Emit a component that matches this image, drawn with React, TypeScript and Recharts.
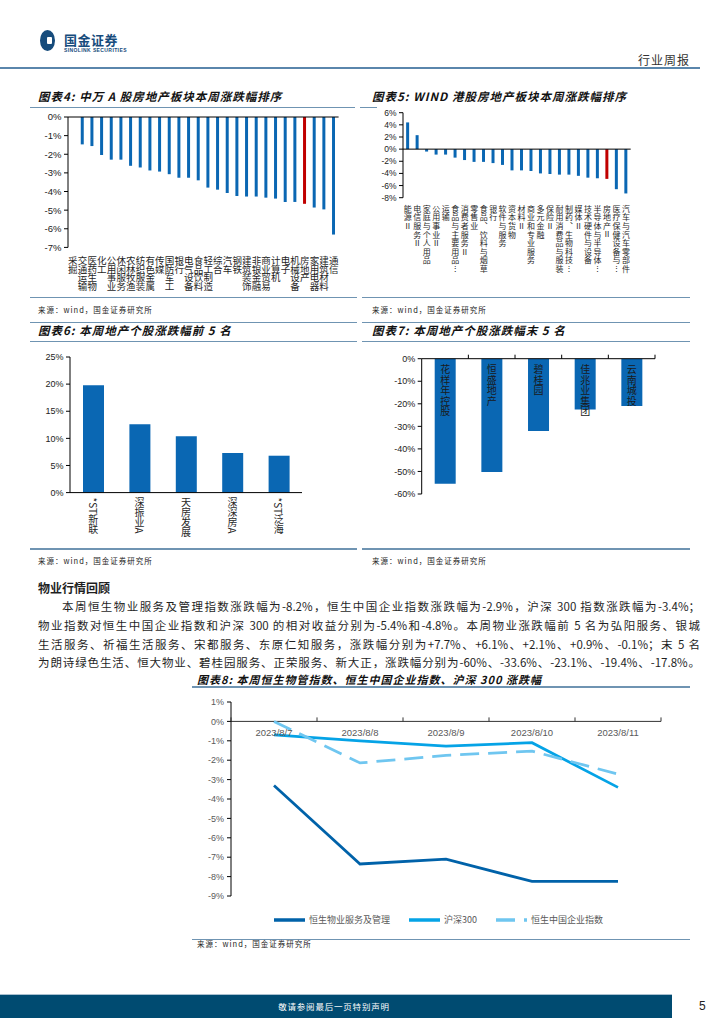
import React from 'react';
import {
  BarChart, Bar, XAxis, YAxis, Cell, ReferenceLine, LabelList,
  LineChart, Line, Legend,
} from 'recharts';

const NUM = "'Liberation Sans', Arial, 'Noto Sans CJK SC', sans-serif";
const CJK = "'Noto Sans CJK SC', 'Liberation Sans', sans-serif";
const BAR_BLUE = '#0a67b3';
const BAR_RED = '#c00000';
const RULE = '#6f94b2';
const INK = '#1f1f1f';
const GREY = '#595959';

// 图表4: 申万 A 股行业本周涨跌幅 (%)
const swSectors = ['采掘', '交通运输', '医药生物', '化工', '公用事业', '休闲服务', '农林牧渔', '纺织服装', '有色金属', '传媒', '国防军工', '银行', '电气设备', '食品饮料', '轻工制造', '综合', '汽车', '钢铁', '建筑装饰', '非银金融', '商业贸易', '计算机', '电子', '机械设备', '房地产', '家用电器', '建筑材料', '通信'];
const swChange = [0, -1.47, -1.56, -2.04, -2.29, -2.29, -2.62, -2.71, -2.87, -2.93, -3.07, -3.26, -3.26, -3.4, -3.79, -3.9, -4.08, -4.24, -4.27, -4.27, -4.33, -4.38, -4.56, -4.56, -4.66, -4.86, -4.96, -6.31];
const swTicks = [0, -1, -2, -3, -4, -5, -6, -7];

// 图表5: WIND 港股行业本周涨跌幅 (%)
const hkSectors = ['能源Ⅱ', '电信服务Ⅱ', '家庭与个人用品', '公用事业Ⅱ', '运输', '食品与主要用品…', '消费者服务Ⅱ', '零售业', '食品、饮料与烟草', '银行', '软件与服务', '资本货物', '材料Ⅱ', '商业和专业服务', '多元金融', '保险Ⅱ', '耐用消费品与服装', '制药、生物科技…', '媒体Ⅱ', '技术硬件与设备', '半导体与半导体…', '房地产Ⅱ', '医疗保健设备与…', '汽车与汽车零部件'];
const hkChange = [4.4, 2.3, -0.4, -0.9, -0.9, -1.4, -1.8, -2.1, -2.1, -2.3, -2.6, -3.5, -3.5, -3.6, -4.0, -4.1, -4.2, -4.2, -4.4, -4.7, -4.8, -4.9, -6.6, -7.3];
const hkTicks = [6, 4, 2, 0, -2, -4, -6, -8];

// 图表6: 涨幅前 5 名 (%)
const topNames = ['*ST新联', '深振业A', '天房发展', '深深房A', '*ST泛海'];
const topChange = [19.8, 12.6, 10.4, 7.3, 6.8];
const topTicks = [0, 5, 10, 15, 20, 25];

// 图表7: 跌幅末 5 名 (%)
const bottomNames = ['花样年控股', '恒盛地产', '碧桂园', '佳兆业集团', '云南城投'];
const bottomChange = [-55.5, -50.2, -32.1, -22.5, -21.0];
const bottomTicks = [0, -10, -20, -30, -40, -50, -60];

// 图表8: 指数累计涨跌幅 (%)
const dates = ['2023/8/7', '2023/8/8', '2023/8/9', '2023/8/10', '2023/8/11'];
const hsProperty = [-3.3, -7.35, -7.1, -8.25, -8.25];
const csi300 = [-0.7, -1.0, -1.28, -1.1, -3.4];
const hscei = [0.0, -2.14, -1.75, -1.53, -2.72];
const lineTicks = [1, 0, -1, -2, -3, -4, -5, -6, -7, -8, -9];

const swData = swSectors.map((name, i) => ({ name, value: swChange[i] }));
const hkData = hkSectors.map((name, i) => ({ name, value: hkChange[i] }));
const topData = topNames.map((name, i) => ({ name, value: topChange[i] }));
const bottomData = bottomNames.map((name, i) => ({ name, value: bottomChange[i] }));
const lineData = dates.map((date, i) => ({ date, hsProperty: hsProperty[i], csi300: csi300[i], hscei: hscei[i] }));

const lineSeries = [
  { key: 'hsProperty', name: '恒生物业服务及管理', color: '#0062a9', dash: undefined },
  { key: 'csi300', name: '沪深300', color: '#05a3e6', dash: undefined },
  { key: 'hscei', name: '恒生中国企业指数', color: '#6fc6f0', dash: '19 9' },
];

const pct = (v: number) => `${v}%`;

// vertical (top-to-bottom) category label
const VTick = (props: any) => {
  const { x, y, payload, fontSize, step, gap, orient } = props;
  return (
    <text
      x={x}
      y={y + gap}
      textAnchor="start"
      fontSize={fontSize}
      fill={INK}
      fontFamily={CJK}
      style={{ writingMode: 'vertical-rl', textOrientation: orient || 'mixed', letterSpacing: step - fontSize } as any}
    >
      {payload.value}
    </text>
  );
};

const Rule = ({ x, y, w, h = 1.5, color = RULE }: any) => (
  <div style={{ position: 'absolute', left: x, top: y, width: w, height: h, background: color }} />
);

const Txt = ({ x, y, size, children, style }: any) => (
  <div
    style={{
      position: 'absolute', left: x, top: y - size / 2, fontSize: size, lineHeight: `${size}px`,
      whiteSpace: 'nowrap', color: INK, fontFamily: CJK, ...style,
    }}
  >
    {children}
  </div>
);

const Title = ({ x, y, size = 11.5, children }: any) => (
  <Txt x={x} y={y} size={size} style={{ fontWeight: 700, fontStyle: 'italic', letterSpacing: 1, color: '#111' }}>
    {children}
  </Txt>
);

const Source = ({ x, y }: any) => (
  <Txt x={x} y={y} size={7.5} style={{ letterSpacing: 1, color: '#222' }}>来源：wind，国金证券研究所</Txt>
);

const Box = ({ x, y, children }: any) => (
  <div style={{ position: 'absolute', left: x, top: y }}>{children}</div>
);

const yTickStyle = { fontSize: 9.5, fill: '#222', fontFamily: NUM };

const SwChart = () => (
  <BarChart width={320} height={190} data={swData} margin={{ top: 7, right: 11.4, left: 0, bottom: 0 }} barCategoryGap="32%">
    <XAxis dataKey="name" axisLine={false} tickLine={false} tickSize={0} tickMargin={0} interval={0} height={52.6}
      tick={(p: any) => <VTick {...p} fontSize={9.5} step={8.8} gap={8} orient="upright" />} />
    <YAxis domain={[-7, 0]} ticks={swTicks} tickFormatter={pct} width={38} tickSize={4} tickMargin={2.5}
      axisLine={{ stroke: '#000' }} tickLine={{ stroke: '#000' }} tick={yTickStyle} interval={0} />
    <ReferenceLine y={0} stroke="#000" />
    <Bar dataKey="value" isAnimationActive={false}>
      {swData.map((d) => <Cell key={d.name} fill={d.name === '房地产' ? BAR_RED : BAR_BLUE} />)}
    </Bar>
  </BarChart>
);

const HkChart = () => (
  <BarChart width={330} height={190} data={hkData} margin={{ top: 7.7, right: 59.3, left: 0, bottom: 0 }} barCategoryGap="33%">
    <XAxis dataKey="name" axisLine={false} tickLine={false} tickSize={0} tickMargin={0} interval={0} height={97.3}
      tick={(p: any) => <VTick {...p} fontSize={8} step={8.6} gap={7} orient="upright" />} />
    <YAxis domain={[-8, 6]} ticks={hkTicks} tickFormatter={pct} width={43} tickSize={4} tickMargin={2.5}
      axisLine={{ stroke: '#000' }} tickLine={{ stroke: '#000' }} tick={{ ...yTickStyle, fontSize: 8.5 }} interval={0} />
    <ReferenceLine y={0} stroke="#000" />
    <Bar dataKey="value" isAnimationActive={false}>
      {hkData.map((d) => <Cell key={d.name} fill={d.name === '房地产Ⅱ' ? BAR_RED : BAR_BLUE} />)}
    </Bar>
  </BarChart>
);

const TopChart = () => (
  <BarChart width={320} height={200} data={topData} margin={{ top: 12, right: 48, left: 0, bottom: 0 }}>
    <XAxis dataKey="name" axisLine={{ stroke: '#000' }} tickLine={false} tickSize={0} tickMargin={0} interval={0} height={52.4}
      tick={(p: any) => <VTick {...p} fontSize={10} step={10} gap={5} />} />
    <YAxis domain={[0, 25]} ticks={topTicks} tickFormatter={pct} width={40} tickSize={4} tickMargin={2.5}
      axisLine={{ stroke: '#000' }} tickLine={{ stroke: '#000' }} tick={{ ...yTickStyle, fontSize: 9 }} interval={0} />
    <Bar dataKey="value" fill={BAR_BLUE} barSize={21} isAnimationActive={false} />
  </BarChart>
);

// top category axis needs a non-zero height or Recharts skips drawing it
const C7 = { w: 330, h: 200, top: 12.7, axisH: 1, right: 35, left: 61.7, bottom: 51 };
const c7Band = (C7.w - C7.left - C7.right) / bottomNames.length;

const BoundaryTickUp = (props: any) => {
  const { x, y, band } = props;
  const bx = x + band / 2;
  return <line x1={bx} x2={bx} y1={y} y2={y - 4} stroke="#000" />;
};

const InsideLabel = (props: any) => {
  const vb = props.viewBox || props;
  const { x, y, width, height } = vb;
  const top = Math.min(y, y + height);
  return (
    <text x={x + width / 2} y={top + 6} textAnchor="start" fontSize={10} fill="#1a1a1a" fontFamily={CJK}
      style={{ writingMode: 'vertical-rl', textOrientation: 'upright', letterSpacing: 0.4 } as any}>
      {props.value}
    </text>
  );
};

const BottomChart = () => (
  <BarChart width={C7.w} height={C7.h} data={bottomData}
    margin={{ top: C7.top, right: C7.right, left: 0, bottom: C7.bottom }}>
    <XAxis dataKey="name" orientation="top" height={C7.axisH} axisLine={{ stroke: '#000' }} tickLine={false} tickSize={0}
      tickMargin={0} interval={0} tick={(p: any) => <BoundaryTickUp {...p} band={c7Band} />} />
    <YAxis domain={[-60, 0]} ticks={bottomTicks} tickFormatter={pct} width={C7.left} tickSize={4} tickMargin={2.5}
      axisLine={{ stroke: '#000' }} tickLine={{ stroke: '#000' }} tick={{ ...yTickStyle, fontSize: 9 }} interval={0} />
    <Bar dataKey="value" fill={BAR_BLUE} barSize={21} isAnimationActive={false}>
      <LabelList dataKey="name" content={InsideLabel} />
    </Bar>
  </BarChart>
);

const C8 = { w: 510, h: 250, top: 11, axisH: 1, right: 29, left: 51, bottom: 44 };
const c8PlotH = C8.h - C8.top - C8.axisH - C8.bottom;
const c8Band = (C8.w - C8.left - C8.right) / dates.length;
const c8ZeroShare = (1 - 0) / (1 - -9);

const DateTick = (props: any) => {
  const { x, y, payload, index } = props;
  const zeroY = y + c8PlotH * c8ZeroShare;
  return (
    <g>
      {index === 0 && <line x1={x - c8Band / 2} x2={x - c8Band / 2} y1={zeroY} y2={zeroY - 4} stroke="#333" />}
      <line x1={x + c8Band / 2} x2={x + c8Band / 2} y1={zeroY} y2={zeroY - 4} stroke="#333" />
      <text x={x} y={zeroY + 15} textAnchor="middle" fontSize={9.5} fill={GREY} fontFamily={NUM}>{payload.value}</text>
    </g>
  );
};

const LineLegend = () => (
  <div style={{ display: 'flex', alignItems: 'center', gap: 19, fontFamily: CJK, fontSize: 9, color: GREY, lineHeight: '12px' }}>
    {lineSeries.map((s) => (
      <div key={s.key} style={{ display: 'flex', alignItems: 'center' }}>
        <svg width={32} height={6} style={{ marginRight: 3 }}>
          <line x1={0} x2={31} y1={3} y2={3} stroke={s.color} strokeWidth={3.5} strokeDasharray={s.dash} />
        </svg>
        <span>{s.name}</span>
      </div>
    ))}
  </div>
);

const IndexChart = () => (
  <LineChart width={C8.w} height={C8.h} data={lineData}
    margin={{ top: C8.top, right: C8.right, left: 0, bottom: C8.bottom }}>
    <XAxis dataKey="date" orientation="top" scale="band" height={C8.axisH} axisLine={false} tickLine={false} tickSize={0}
      tickMargin={0} interval={0} tick={(p: any) => <DateTick {...p} />} />
    <YAxis domain={[-9, 1]} ticks={lineTicks} tickFormatter={pct} width={C8.left} tickSize={4} tickMargin={3}
      axisLine={{ stroke: '#000' }} tickLine={{ stroke: '#000' }} tick={{ fontSize: 9, fill: GREY, fontFamily: NUM }} interval={0} />
    <ReferenceLine y={0} stroke="#333" />
    {lineSeries.map((s) => (
      <Line key={s.key} dataKey={s.key} name={s.name} stroke={s.color} strokeWidth={2.75} strokeDasharray={s.dash}
        dot={false} type="linear" isAnimationActive={false} />
    ))}
    <Legend layout="horizontal" verticalAlign="middle" align="center" content={LineLegend}
      wrapperStyle={{ left: 94, top: 224, width: 'auto', height: 12 }} />
  </LineChart>
);

const paraLines = [
  '本周恒生物业服务及管理指数涨跌幅为-8.2%，恒生中国企业指数涨跌幅为-2.9%，沪深 300 指数涨跌幅为-3.4%；',
  '物业指数对恒生中国企业指数和沪深 300 的相对收益分别为-5.4%和-4.8%。本周物业涨跌幅前 5 名为弘阳服务、银城',
  '生活服务、祈福生活服务、宋都服务、东原仁知服务，涨跌幅分别为+7.7%、+6.1%、+2.1%、+0.9%、-0.1%；末 5 名',
  '为朗诗绿色生活、恒大物业、碧桂园服务、正荣服务、新大正，涨跌幅分别为-60%、-33.6%、-23.1%、-19.4%、-17.8%。',
];
const paraY = [606, 625, 644, 662];

const Header = () => (
  <>
    <div style={{ position: 'absolute', left: 40, top: 30, width: 15, height: 21, borderRadius: '50%', background: '#174c7c' }} />
    <div style={{ position: 'absolute', left: 47, top: 37, width: 5, height: 7, background: '#fff', borderRadius: 1 }} />
    <Txt x={64} y={39} size={13} style={{ fontWeight: 700, color: '#174c7c', letterSpacing: 0.5 }}>国金证券</Txt>
    <Txt x={64} y={50.5} size={5} style={{ fontWeight: 700, color: '#174c7c', fontFamily: NUM, letterSpacing: 0.4 }}>SINOLINK SECURITIES</Txt>
    <Txt x={638} y={60} size={12} style={{ color: '#333', letterSpacing: 1 }}>行业周报</Txt>
    <Rule x={0} y={67} w={700} h={2} color="#5a86ac" />
  </>
);

export default function App() {
  return (
    <div style={{ position: 'absolute', left: 0, top: 0, width: 724, height: 1024, background: '#fff', overflow: 'hidden', fontFamily: CJK }}>
      <Header />

      <Title x={38} y={97}>图表4: 中万 A 股房地产板块本周涨跌幅排序</Title>
      <Rule x={30} y={106.5} w={325} />
      <Title x={372} y={97}>图表5: WIND 港股房地产板块本周涨跌幅排序</Title>
      <Rule x={360} y={106.5} w={17} />
      <Box x={30} y={110}><SwChart /></Box>
      <Box x={360} y={105}><HkChart /></Box>
      <Rule x={30} y={296.5} w={327} />
      <Rule x={362} y={296.5} w={328} />
      <Source x={38} y={310} />
      <Source x={372} y={310} />

      <Rule x={30} y={321.5} w={327} />
      <Rule x={362} y={321.5} w={328} />
      <Title x={38} y={331}>图表6: 本周地产个股涨跌幅前 5 名</Title>
      <Title x={372} y={331}>图表7: 本周地产个股涨跌幅末 5 名</Title>
      <Rule x={30} y={340.5} w={327} />
      <Rule x={362} y={340.5} w={328} />
      <Box x={30} y={345}><TopChart /></Box>
      <Box x={360} y={345}><BottomChart /></Box>
      <Rule x={30} y={548} w={327} />
      <Rule x={362} y={548} w={328} />
      <Source x={38} y={561} />
      <Source x={372} y={561} />

      <Txt x={38} y={588} size={12} style={{ fontWeight: 700 }}>物业行情回顾</Txt>
      {paraLines.map((line, i) => (
        <div key={i} style={{
          position: 'absolute', left: i === 0 ? 62 : 38, top: paraY[i] - 6, width: i === 0 ? 638 : 662,
          fontSize: 11.5, lineHeight: '12px', textAlign: 'justify', textAlignLast: 'justify', whiteSpace: 'nowrap',
          color: INK, fontFamily: CJK,
        }}>{line}</div>
      ))}

      <Title x={197} y={679} size={11}>图表8: 本周恒生物管指数、恒生中国企业指数、沪深 300 涨跌幅</Title>
      <Rule x={192} y={686} w={498} />
      <Box x={180} y={690}><IndexChart /></Box>
      <Rule x={192} y={938.5} w={498} />
      <Source x={197} y={944} />

      <div style={{ position: 'absolute', left: 0, top: 994, width: 672, height: 23, background: '#004b71', borderTop: '1px solid #a9c0d0' }} />
      <Txt x={0} y={1006} size={8.5} style={{ width: 668, textAlign: 'center', color: '#fff', letterSpacing: 0.8 }}>敬请参阅最后一页特别声明</Txt>
      <Txt x={699} y={1006} size={12} style={{ fontFamily: NUM, color: '#222' }}>5</Txt>
    </div>
  );
}
